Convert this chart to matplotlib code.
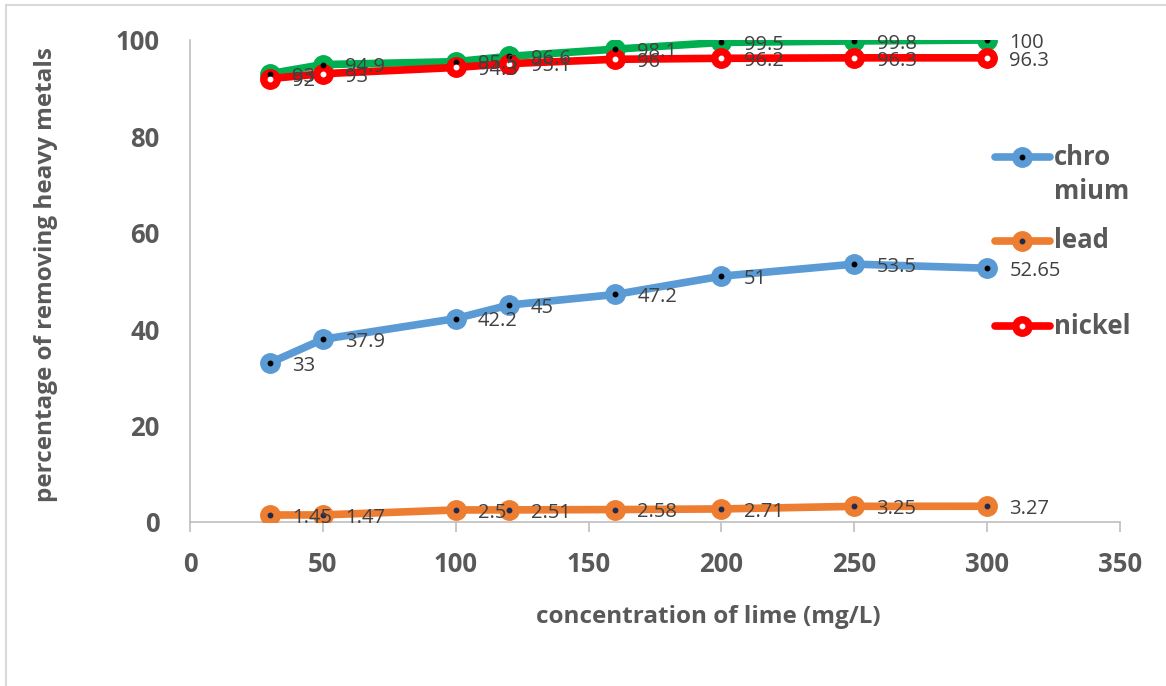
import matplotlib
matplotlib.use("Agg")
import matplotlib.pyplot as plt
from matplotlib.lines import Line2D
from matplotlib.patches import Rectangle

# ---------------------------------------------------------------------------
# Data
# ---------------------------------------------------------------------------
lime_conc = [30, 50, 100, 120, 160, 200, 250, 300]
chromium = [33, 37.9, 42.2, 45, 47.2, 51, 53.5, 52.65]
lead = [1.45, 1.47, 2.5, 2.51, 2.58, 2.71, 3.25, 3.27]
nickel = [92, 93, 94.3, 95.1, 96, 96.2, 96.3, 96.3]
unnamed = [93, 94.9, 95.5, 96.6, 98.1, 99.5, 99.8, 100]   # green, not in legend

x_ticks = [0, 50, 100, 150, 200, 250, 300, 350]
y_ticks = [0, 20, 40, 60, 80, 100]

FONT = ["Open Sans", "DejaVu Sans"]
plt.rcParams["font.family"] = FONT
GREY = "#595959"
LABEL_GREY = "#404040"
W, H = 1166, 686

fig = plt.figure(figsize=(W / 100, H / 100), dpi=100)
ax = fig.add_axes([190 / W, 1 - 522 / H, 930 / W, 482 / H])

# outer chart-area border (only top/left edges fall inside the picture)
fig.patches.append(Rectangle((6 / W, -0.1), 1.2, (H - 5) / H + 0.1,
                             transform=fig.transFigure, fill=False,
                             edgecolor="#d9d9d9", linewidth=1.5))

# (values, colour, centre-dot colour, legend label)
series = [
    (unnamed, "#00b050", "black", None),
    (nickel, "#ff0000", "white", "nickel"),
    (chromium, "#5b9bd5", "black", "chro\nmium"),
    (lead, "#ed7d31", "#1f2a4f", "lead"),
]
LW, MS, DOT = 5.5, 14, 3.2

for ys, color, dot, _ in series:
    ax.plot(lime_conc, ys, color=color, lw=LW, marker="o", ms=MS,
            mfc=color, mec=color, solid_capstyle="round", zorder=3)
    ax.plot(lime_conc, ys, ls="none", marker="o", ms=DOT, color=dot, zorder=4)
    for x, y in zip(lime_conc, ys):
        ax.annotate(f"{y:g}", (x, y), xytext=(16, -2), textcoords="offset points",
                    ha="left", va="center", fontsize=14.5, color=LABEL_GREY,
                    zorder=5)

ax.set_xlim(0, 350)
ax.set_ylim(0, 100)
ax.set_xticks(x_ticks)
ax.set_yticks(y_ticks)
for lbl in ax.get_xticklabels() + ax.get_yticklabels():
    lbl.set_fontweight("bold")
    lbl.set_color(GREY)
    lbl.set_fontsize(18.5)
ax.tick_params(axis="x", length=7, width=1.2, color="#bfbfbf", pad=14)
ax.tick_params(axis="y", length=0, pad=22)
for side in ("top", "right"):
    ax.spines[side].set_visible(False)
for side in ("left", "bottom"):
    ax.spines[side].set_color("#bfbfbf")
    ax.spines[side].set_linewidth(1.2)

ax.set_xlabel("concentration of lime (mg/L)", fontsize=17.5, fontweight="bold",
              color=GREY)
ax.set_ylabel("percentage of removing heavy metals", fontsize=17.5,
              fontweight="bold", color=GREY)
ax.xaxis.set_label_coords((708 - 190) / 930, (522 - 605) / 482)
ax.yaxis.set_label_coords((58 - 190) / 930, (522 - 275) / 482)

# legend on the right, drawn by hand so the rows sit where Excel put them
legend_rows = [(series[2], 157, 174.5), (series[3], 241, 241),
               (series[1], 326, 326)]
for (ys, color, dot, name), y_handle, y_text in legend_rows:
    yf = 1 - y_handle / H
    fig.add_artist(Line2D([995 / W, 1050 / W], [yf, yf], color=color, lw=LW,
                          solid_capstyle="round", transform=fig.transFigure))
    fig.add_artist(Line2D([1022 / W], [yf], marker="o", ms=MS, mfc=color,
                          mec=color, transform=fig.transFigure))
    fig.add_artist(Line2D([1022 / W], [yf], marker="o", ms=DOT, color=dot,
                          transform=fig.transFigure))
    fig.text(1054 / W, 1 - y_text / H, name, ha="left", va="center",
             fontsize=18.5, fontweight="bold", color=GREY, linespacing=1.3)

fig.savefig("out.png", dpi=100)
